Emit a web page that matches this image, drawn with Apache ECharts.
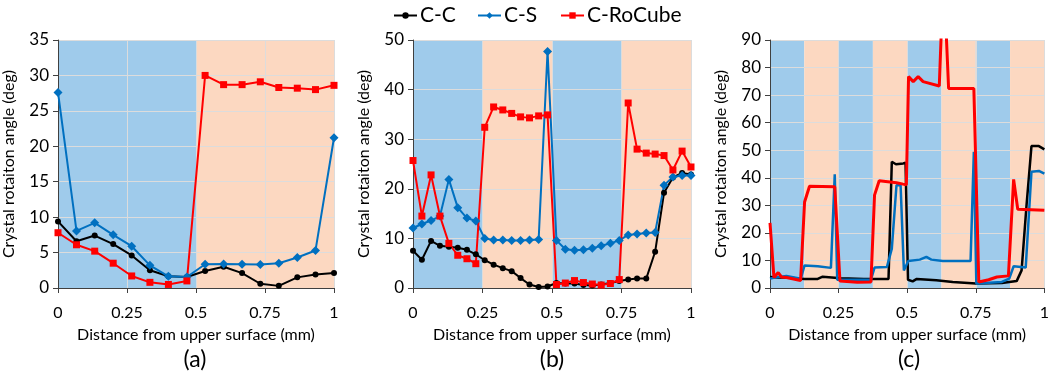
<!DOCTYPE html>
<html>
<head>
<meta charset="utf-8">
<script src="https://cdn.jsdelivr.net/npm/echarts@6/dist/echarts.min.js"></script>
<style>
  html, body { margin: 0; padding: 0; background: #fff; }
  #chart { width: 1052px; height: 376px; }
</style>
</head>
<body>
<div id="chart"></div>
<script>
// Panel (a): 16 puntos
const xA = [0, 0.067, 0.133, 0.2, 0.267, 0.333, 0.4, 0.467, 0.533, 0.6, 0.667, 0.733, 0.8, 0.867, 0.933, 1];
const ccA = [9.4, 6.6, 7.4, 6.2, 4.6, 2.5, 1.65, 1.55, 2.4, 3.0, 2.1, 0.6, 0.3, 1.5, 1.9, 2.1];
const csA = [27.6, 8.05, 9.2, 7.5, 5.9, 3.2, 1.65, 1.55, 3.35, 3.4, 3.35, 3.3, 3.5, 4.3, 5.3, 21.2];
const crA = [7.8, 6.1, 5.2, 3.5, 1.7, 0.8, 0.5, 1.0, 30.0, 28.7, 28.7, 29.1, 28.3, 28.2, 28.0, 28.6];

// Panel (b): 32 puntos
const xB = [0, 0.032, 0.065, 0.097, 0.129, 0.161, 0.194, 0.226, 0.258, 0.290, 0.323, 0.355, 0.387, 0.419, 0.452, 0.484,
            0.516, 0.548, 0.581, 0.613, 0.645, 0.677, 0.710, 0.742, 0.774, 0.806, 0.839, 0.871, 0.903, 0.935, 0.968, 1];
const ccB = [7.5, 5.7, 9.5, 8.5, 8.3, 8.1, 7.7, 6.8, 5.6, 4.7, 4.0, 3.4, 2.0, 0.7, 0.2, 0.3,
             1.0, 0.9, 0.9, 0.6, 0.5, 0.7, 1.0, 1.4, 1.7, 1.9, 1.9, 7.3, 19.2, 22.3, 23.2, 22.9];
const csB = [12.1, 12.9, 13.6, 14.5, 21.9, 16.2, 14.1, 13.5, 10.0, 9.7, 9.7, 9.6, 9.6, 9.7, 9.8, 47.7,
             9.6, 7.8, 7.6, 7.7, 8.0, 8.5, 9.0, 9.6, 10.7, 10.9, 11.1, 11.2, 20.7, 22.4, 22.7, 22.7];
const crB = [25.7, 14.5, 22.8, 14.5, 9.0, 6.6, 5.9, 4.9, 32.4, 36.5, 35.9, 35.2, 34.5, 34.3, 34.7, 34.9,
             0.7, 1.0, 1.5, 1.1, 0.8, 0.6, 0.9, 1.7, 37.3, 28.0, 27.2, 27.0, 26.7, 23.8, 27.6, 24.4];

// Panel (c): líneas sin marcadores, cada serie con su propio eje x
const xCcc = [0, 0.03, 0.06, 0.126, 0.174, 0.192, 0.258, 0.342, 0.432, 0.444, 0.459, 0.486, 0.494, 0.503, 0.52, 0.535,
              0.606, 0.666, 0.75, 0.845, 0.899, 0.917, 0.935, 0.953, 0.98, 1];
const yCcc = [4.0, 3.8, 3.8, 3.3, 3.3, 4.1, 3.5, 3.3, 3.3, 45.8, 44.9, 45.2, 45.5, 3.0, 2.4, 3.3,
              2.8, 2.2, 1.6, 1.8, 2.5, 6.4, 30, 51.5, 51.5, 50.3];
const xCcs = [0, 0.018, 0.06, 0.112, 0.126, 0.174, 0.222, 0.236, 0.245, 0.342, 0.368, 0.381, 0.426, 0.444, 0.461, 0.476,
              0.488, 0.504, 0.546, 0.57, 0.588, 0.63, 0.731, 0.743, 0.752, 0.845, 0.872, 0.888, 0.932, 0.953, 0.98, 1];
const yCcs = [3.4, 3.8, 4.4, 3.4, 8.2, 7.9, 7.3, 41.3, 3.0, 3.0, 3.0, 7.4, 7.6, 14.3, 37.3, 37.3,
              6.4, 9.8, 10.3, 11.3, 10.3, 9.8, 9.8, 49.4, 1.6, 2.2, 3.4, 7.9, 7.4, 42.2, 42.5, 41.5];
const xCcr = [0, 0.0144, 0.03, 0.042, 0.06, 0.1115, 0.126, 0.144, 0.236, 0.255, 0.318, 0.368, 0.381, 0.398, 0.461, 0.485,
              0.497, 0.505, 0.507, 0.522, 0.54, 0.558, 0.617, 0.627, 0.639, 0.651, 0.743, 0.761, 0.797, 0.827, 0.869, 0.888, 0.903, 1];
const yCcr = [23.6, 3.8, 5.6, 4.0, 3.8, 2.7, 31.2, 36.9, 36.7, 2.5, 2.1, 2.2, 33.7, 38.9, 38.2, 37.7,
              37.5, 76.7, 76.9, 74.9, 76.7, 74.9, 73.3, 100, 100, 72.4, 72.4, 2.2, 3.0, 4.0, 4.4, 39.4, 28.6, 28.2];

// Bandas de fondo [inicio, fin, tipo]
const bandsA = [[0, 0.5, 'b'], [0.5, 1, 'o']];
const bandsB = [[0, 0.25, 'b'], [0.25, 0.5, 'o'], [0.5, 0.75, 'b'], [0.75, 1, 'o']];
const bandsC = [[0, 0.125, 'b'], [0.125, 0.25, 'o'], [0.25, 0.375, 'b'], [0.375, 0.5, 'o'],
                [0.5, 0.625, 'b'], [0.625, 0.75, 'o'], [0.75, 0.875, 'b'], [0.875, 1, 'o']];

const seriesNames = ['C-C', 'C-S', 'C-RoCube'];
const panelLabels = ['(a)', '(b)', '(c)'];
const yMax = [35, 50, 90];
const yInterval = [5, 10, 10];

const FONT = 'Lato';
const BLUE_BAND = '#9FCBEB';
const ORANGE_BAND = '#FCD8C1';
const COLORS = ['#000000', '#0070C0', '#FF0000'];

const pair = (xs, ys) => xs.map((x, i) => [x, ys[i]]);

const grids = [
  { left: 56, top: 40, width: 278, height: 248 },
  { left: 413, top: 40, width: 278, height: 248 },
  { left: 770, top: 40, width: 278, height: 248 }
];

const xAxes = grids.map((g, i) => ({
  type: 'value', gridIndex: i, min: 0, max: 1, interval: 0.25, z: 5,
  name: 'Distance from upper surface (mm)', nameLocation: 'middle', nameGap: 39,
  nameTextStyle: { fontFamily: FONT, fontSize: 16, color: '#000' },
  axisLine: { lineStyle: { color: '#404040', width: 1 } },
  axisTick: { show: true, length: 5, lineStyle: { color: '#404040' } },
  axisLabel: { fontFamily: FONT, fontSize: 16, color: '#000', margin: 17 },
  splitLine: { show: true, lineStyle: { color: '#DCDCDC', width: 1 } }
}));

const yAxes = grids.map((g, i) => ({
  type: 'value', gridIndex: i, min: 0, max: yMax[i], interval: yInterval[i], z: 5,
  name: 'Crystal rotaiton angle (deg)', nameLocation: 'middle', nameGap: 41,
  nameTextStyle: { fontFamily: FONT, fontSize: 16, color: '#000' },
  axisLine: { show: true, lineStyle: { color: '#404040', width: 1 } },
  axisTick: { show: true, length: 5, lineStyle: { color: '#404040' } },
  axisLabel: { fontFamily: FONT, fontSize: 17, color: '#000', margin: 9 },
  splitLine: { show: true, lineStyle: { color: '#DCDCDC', width: 1 } }
}));

function bandSeries(idx, bands) {
  return {
    type: 'line', xAxisIndex: idx, yAxisIndex: idx, data: [], z: 0, silent: true,
    markArea: {
      silent: true,
      data: bands.map(b => [
        { xAxis: b[0], yAxis: 0, itemStyle: { color: b[2] === 'b' ? BLUE_BAND : ORANGE_BAND } },
        { xAxis: b[1], yAxis: yMax[idx] }
      ])
    }
  };
}

function markerSeries(idx, xs, ysList) {
  const symbols = ['circle', 'diamond', 'rect'];
  const sizes = [6, 9, 7];
  return ysList.map((ys, k) => ({
    name: seriesNames[k], type: 'line', xAxisIndex: idx, yAxisIndex: idx, z: 6,
    data: pair(xs, ys),
    symbol: symbols[k], symbolSize: sizes[k], showAllSymbol: true,
    lineStyle: { color: COLORS[k], width: 2 },
    itemStyle: { color: COLORS[k] }
  }));
}

function plainSeries(idx, list) {
  const widths = [2.5, 2.5, 3];
  return list.map((d, k) => ({
    name: seriesNames[k], type: 'line', xAxisIndex: idx, yAxisIndex: idx, z: 6,
    data: pair(d[0], d[1]), showSymbol: false, symbol: 'none', clip: true,
    lineStyle: { color: COLORS[k], width: widths[k] },
    itemStyle: { color: COLORS[k] }
  }));
}

const series = [
  bandSeries(0, bandsA), bandSeries(1, bandsB), bandSeries(2, bandsC),
  ...markerSeries(0, xA, [ccA, csA, crA]),
  ...markerSeries(1, xB, [ccB, csB, crB]),
  ...plainSeries(2, [[xCcc, yCcc], [xCcs, yCcs], [xCcr, yCcr]])
];

// Una leyenda por elemento para fijar su posición
const legendLeft = [388, 472, 555];
const legends = seriesNames.map((n, k) => ({
  data: [n], top: 0, left: legendLeft[k], itemWidth: 23, itemHeight: 8, itemGap: 4,
  textStyle: { fontFamily: FONT, fontSize: 21, color: '#000', padding: [0, 0, 0, -2] }
}));

const chart = echarts.init(document.getElementById('chart'));
chart.setOption({
  backgroundColor: '#fff',
  animation: false,
  legend: legends,
  grid: grids,
  xAxis: xAxes,
  yAxis: yAxes,
  graphic: grids.map((g, i) => ({
    type: 'text', x: g.left + g.width / 2, y: 360, z: 10,
    style: { text: panelLabels[i], fontFamily: FONT, fontSize: 23, fill: '#000', textAlign: 'center', textVerticalAlign: 'middle' }
  })),
  series: series
});
</script>
</body>
</html>
